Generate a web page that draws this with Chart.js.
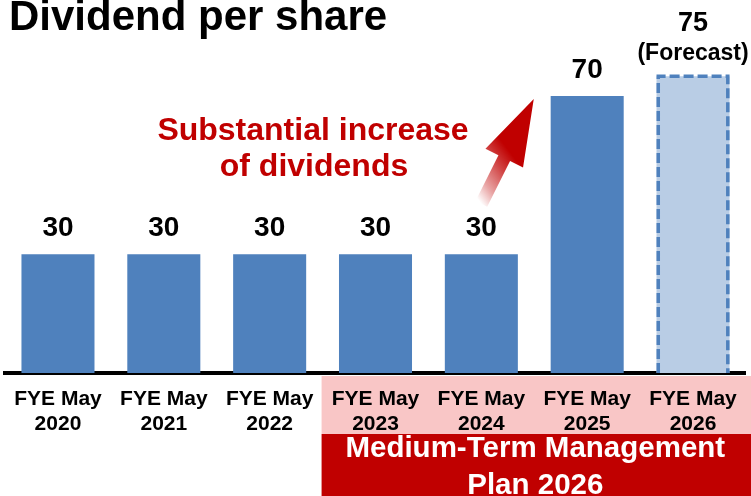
<!DOCTYPE html>
<html>
<head>
<meta charset="utf-8">
<script src="https://cdn.jsdelivr.net/npm/chart.js@4/dist/chart.umd.min.js"></script>
<style>
  html, body { margin: 0; padding: 0; background: #ffffff; }
  #wrap { width: 751px; height: 496px; position: relative; }
</style>
</head>
<body>
<div id="wrap"><canvas id="c" width="751" height="496"></canvas></div>
<script>
// ---- data ----
const years = ["2020", "2021", "2022", "2023", "2024", "2025", "2026"];
const labelPrefix = "FYE May";
const dividends = [30, 30, 30, 30, 30, 70, 75];
const isForecast = [false, false, false, false, false, false, true];
const valueNotes = ["", "", "", "", "", "", "(Forecast)"];
const titleText = "Dividend per share";
const calloutLines = ["Substantial increase", "of dividends"];
const planLines = ["Medium-Term Management", "Plan 2026"];
const planFirstIndex = 3;

const FONT = "'Liberation Sans', Arial, Helvetica, sans-serif";
const BLUE = "#4F81BD";
const LIGHT = "#B9CDE5";
const RED = "#C00000";
const PINK = "#F9C6C6";

const categories = years.map(y => [labelPrefix, y]);

const decorPlugin = {
  id: 'decor',
  beforeDraw(chart) {
    const ctx = chart.ctx;
    const xs = chart.scales.x;
    const w = xs.getPixelForValue(1) - xs.getPixelForValue(0);
    const left = xs.getPixelForValue(planFirstIndex) - w / 2 - 1;
    ctx.save();
    ctx.fillStyle = PINK;
    ctx.fillRect(left, chart.chartArea.bottom + 3, chart.width - left, 58);
    ctx.restore();
  },
  afterDatasetsDraw(chart) {
    const ctx = chart.ctx;
    const meta = chart.getDatasetMeta(0);
    const xs = chart.scales.x, ys = chart.scales.y;
    ctx.save();
    // dashed border for forecast bars
    meta.data.forEach((bar, i) => {
      if (!isForecast[i]) return;
      const p = bar.getProps(['x', 'y', 'base', 'width'], true);
      ctx.strokeStyle = BLUE;
      ctx.lineWidth = 3.5;
      ctx.setLineDash([10, 4]);
      ctx.beginPath();
      const l = p.x - p.width / 2 + 1.75, r = p.x + p.width / 2 - 1.75;
      ctx.moveTo(l, p.base);
      ctx.lineTo(l, p.y);
      ctx.lineTo(r, p.y);
      ctx.lineTo(r, p.base);
      ctx.stroke();
      ctx.setLineDash([]);
    });
    // value labels
    ctx.fillStyle = '#000';
    ctx.textAlign = 'center';
    ctx.textBaseline = 'alphabetic';
    meta.data.forEach((bar, i) => {
      const p = bar.getProps(['x', 'y'], true);
      if (valueNotes[i]) {
        ctx.font = "bold 23px " + FONT;
        ctx.fillText(valueNotes[i], p.x, p.y - 16);
        ctx.font = "bold 27px " + FONT;
        ctx.fillText(String(dividends[i]), p.x, p.y - 45);
      } else {
        ctx.font = "bold 28px " + FONT;
        ctx.fillText(String(dividends[i]), p.x, p.y - 18);
      }
    });
    // arrow
    const tx = xs.getPixelForValue(4.5) - 0.5, ty = ys.getPixelForValue(69) - 1;
    const sx = xs.getPixelForValue(4), sy = ys.getPixelForValue(43) + 1;
    const dx = tx - sx, dy = ty - sy, len = Math.hypot(dx, dy);
    const ux = dx / len, uy = dy / len, nx = -uy, ny = ux;
    const headLen = 66, headHalf = 21, shaftHalf = 6.5;
    const bx = tx - ux * headLen, by = ty - uy * headLen;
    const g = ctx.createLinearGradient(sx, sy, sx + 60 * 0.8, sy - 60 * 0.6);
    g.addColorStop(0, 'rgba(192,0,0,0)');
    g.addColorStop(0.25, 'rgba(192,0,0,0.35)');
    g.addColorStop(0.6, 'rgba(192,0,0,0.72)');
    g.addColorStop(0.9, 'rgba(192,0,0,1)');
    g.addColorStop(1, 'rgba(192,0,0,1)');
    ctx.fillStyle = g;
    ctx.beginPath();
    ctx.moveTo(sx + nx * shaftHalf, sy + ny * shaftHalf);
    ctx.lineTo(bx + nx * shaftHalf, by + ny * shaftHalf);
    ctx.lineTo(bx + nx * headHalf, by + ny * headHalf);
    ctx.lineTo(tx, ty);
    ctx.lineTo(bx - nx * headHalf, by - ny * headHalf);
    ctx.lineTo(bx - nx * shaftHalf, by - ny * shaftHalf);
    ctx.lineTo(sx - nx * shaftHalf, sy - ny * shaftHalf);
    ctx.closePath();
    ctx.fill();
    // callout text
    ctx.fillStyle = RED;
    ctx.font = "bold 32px " + FONT;
    ctx.fillText(calloutLines[0], 313, 140);
    ctx.fillText(calloutLines[1], 314, 176);
    ctx.restore();
  },
  afterDraw(chart) {
    const ctx = chart.ctx;
    const xs = chart.scales.x;
    const w = xs.getPixelForValue(1) - xs.getPixelForValue(0);
    const left = xs.getPixelForValue(planFirstIndex) - w / 2 - 1;
    const top = chart.chartArea.bottom + 61;
    ctx.save();
    ctx.fillStyle = RED;
    ctx.fillRect(left, top, chart.width - left, chart.height - top);
    ctx.fillStyle = '#fff';
    ctx.textAlign = 'center';
    ctx.textBaseline = 'alphabetic';
    ctx.font = "bold 29.5px " + FONT;
    const cx = (left + chart.width) / 2 - 1;
    ctx.fillText(planLines[0], cx, top + 23);
    ctx.fillText(planLines[1], cx, top + 60);
    // title
    ctx.fillStyle = '#000';
    ctx.textAlign = 'left';
    ctx.font = "bold 42px " + FONT;
    ctx.fillText(titleText, 9, 30);
    ctx.restore();
  }
};

new Chart(document.getElementById('c'), {
  type: 'bar',
  data: {
    labels: categories,
    datasets: [{
      data: dividends,
      backgroundColor: dividends.map((v, i) => isForecast[i] ? LIGHT : BLUE),
      borderWidth: 0,
      categoryPercentage: 1.0,
      barPercentage: 0.69
    }]
  },
  options: {
    responsive: false,
    animation: false,
    events: [],
    layout: { padding: { top: 17, left: 3, right: 5, bottom: 0 } },
    plugins: { legend: { display: false }, tooltip: { enabled: false }, title: { display: false } },
    scales: {
      x: {
        afterFit: (s) => { s.height = 123; },
        grid: { display: false, drawTicks: false },
        border: { display: true, color: '#000', width: 4 },
        ticks: {
          color: '#000',
          padding: 14,
          maxRotation: 0,
          autoSkip: false,
          font: { family: FONT, size: 21, weight: 'bold', lineHeight: 1.19 }
        }
      },
      y: {
        display: false,
        min: 0,
        max: 90
      }
    }
  },
  plugins: [decorPlugin]
});
</script>
</body>
</html>
